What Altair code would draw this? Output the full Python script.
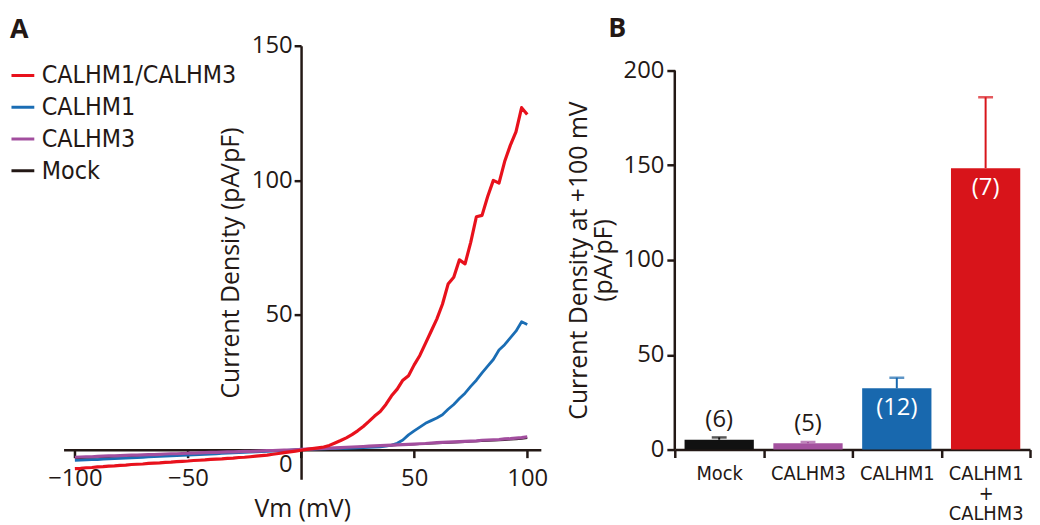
import altair as alt
import pandas as pd

FONT = "Open Sans"
COND = "DejaVu Sans Condensed, Roboto, sans-serif"
INK = "#231815"

# ---------------- Panel A data (I-V traces) ----------------
vm = [-100, -97.5, -95, -92.5, -90, -87.5, -85, -82.5, -80, -77.5,
      -75, -72.5, -70, -67.5, -65, -62.5, -60, -57.5, -55, -52.5,
      -50, -47.5, -45, -42.5, -40, -37.5, -35, -32.5, -30, -27.5,
      -25, -22.5, -20, -17.5, -15, -12.5, -10, -7.5, -5, -2.5,
      0, 2.5, 5, 7.5, 10, 12.5, 15, 17.5, 20, 22.5,
      25, 27.5, 30, 32.5, 35, 37.5, 40, 42.5, 45, 47.5,
      50, 52.5, 55, 57.5, 60, 62.5, 65, 67.5, 70, 72.5,
      75, 77.5, 80, 82.5, 85, 87.5, 90, 92.5, 95, 97.5, 100]

calhm13 = [-7.0, -6.9, -6.7, -6.6, -6.4, -6.3, -6.1, -6.0, -5.8, -5.7,
           -5.5, -5.4, -5.3, -5.1, -5.0, -4.9, -4.7, -4.6, -4.4, -4.3,
           -4.2, -4.0, -3.9, -3.8, -3.6, -3.5, -3.4, -3.2, -3.1, -2.9,
           -2.8, -2.6, -2.4, -2.2, -2.0, -1.7, -1.4, -1.1, -0.8, -0.5,
           -0.2, 0.1, 0.4, 0.7, 1.0, 1.6, 2.5, 3.4, 4.4, 5.6,
           7.0, 8.6, 10.5, 12.5, 14.2, 16.8, 20.0, 22.5, 25.8, 27.5,
           31.5, 35.0, 39.5, 44.0, 48.5, 54.0, 61.5, 64.0, 70.5, 69.0,
           77.0, 86.5, 87.0, 94.0, 100.0, 99.0, 107.0, 113.0, 118.0, 127.0, 124.5]

calhm1 = [-4.0, -3.9, -3.8, -3.7, -3.7, -3.5, -3.4, -3.3, -3.2, -3.1,
          -3.0, -2.9, -2.8, -2.7, -2.6, -2.5, -2.4, -2.3, -2.2, -2.1,
          -2.0, -1.9, -1.8, -1.7, -1.6, -1.5, -1.4, -1.3, -1.2, -1.1,
          -1.0, -0.9, -0.8, -0.7, -0.6, -0.5, -0.4, -0.3, -0.2, -0.1,
          0.0, 0.1, 0.2, 0.3, 0.3, 0.4, 0.4, 0.5, 0.5, 0.6,
          0.7, 0.8, 0.9, 1.0, 1.1, 1.3, 1.7, 2.4, 3.6, 5.5,
          7.0, 8.4, 9.8, 10.8, 11.8, 13.0, 15.0, 16.8, 19.0, 21.0,
          23.5, 25.8, 28.5, 31.0, 33.5, 37.0, 39.0, 41.5, 44.0, 47.5, 46.5]

calhm3 = [-2.8, -2.7, -2.6, -2.6, -2.5, -2.4, -2.3, -2.3, -2.2, -2.1,
          -2.0, -2.0, -1.9, -1.8, -1.8, -1.7, -1.6, -1.5, -1.5, -1.4,
          -1.3, -1.3, -1.2, -1.1, -1.0, -1.0, -0.9, -0.8, -0.8, -0.7,
          -0.6, -0.6, -0.5, -0.4, -0.3, -0.3, -0.2, -0.1, -0.1, 0.0,
          0.1, 0.2, 0.3, 0.4, 0.5, 0.6, 0.7, 0.8, 0.9, 1.0,
          1.1, 1.2, 1.3, 1.4, 1.5, 1.6, 1.7, 1.8, 1.9, 2.0,
          2.1, 2.2, 2.3, 2.5, 2.6, 2.7, 2.8, 2.9, 3.0, 3.1,
          3.2, 3.3, 3.5, 3.6, 3.7, 3.8, 4.0, 4.1, 4.3, 4.5, 4.8]

mock = [-3.2, -3.1, -3.0, -3.0, -2.9, -2.8, -2.7, -2.6, -2.5, -2.4,
        -2.4, -2.3, -2.2, -2.1, -2.0, -1.9, -1.8, -1.8, -1.7, -1.6,
        -1.5, -1.4, -1.4, -1.3, -1.2, -1.1, -1.0, -1.0, -0.9, -0.8,
        -0.7, -0.6, -0.6, -0.5, -0.4, -0.3, -0.2, -0.2, -0.1, 0.0,
        0.0, 0.1, 0.2, 0.3, 0.4, 0.5, 0.6, 0.7, 0.8, 0.9,
        1.0, 1.1, 1.2, 1.3, 1.4, 1.5, 1.6, 1.7, 1.8, 1.9,
        2.0, 2.1, 2.2, 2.3, 2.4, 2.5, 2.6, 2.7, 2.8, 2.9,
        3.0, 3.1, 3.2, 3.3, 3.4, 3.5, 3.6, 3.8, 3.9, 4.1, 4.3]

legend_order = ["CALHM1/CALHM3", "CALHM1", "CALHM3", "Mock"]
legend_colors = ["#E8111C", "#1A6DB4", "#A24E9E", "#231815"]
draw_order = ["Mock", "CALHM1", "CALHM3", "CALHM1/CALHM3"]
line_widths = {"Mock": 2.0, "CALHM1": 2.8, "CALHM3": 3.2, "CALHM1/CALHM3": 3.2}

traces = {"CALHM1/CALHM3": calhm13, "CALHM1": calhm1, "CALHM3": calhm3, "Mock": mock}
rows = []
for name, vals in traces.items():
    for v, c in zip(vm, vals):
        rows.append({"vm": v, "cd": c, "series": name})
df_iv = pd.DataFrame(rows)

# ---------------- Panel B data (bars) ----------------
groups = ["Mock", "CALHM3", "CALHM1", "CALHM1+CALHM3"]
means = [5.2, 3.4, 32.3, 148.5]
sems = [1.2, 0.6, 5.6, 37.4]
n_cells = [6, 5, 12, 7]
bar_colors = ["#111111", "#A4529F", "#1868AE", "#D8141A"]
b_axis_ticks = [0, 50, 100, 150, 200]
df_bar = pd.DataFrame({"group": groups, "mean": means, "sem": sems, "n": n_cells})
df_baxis = pd.DataFrame({"lo": [b_axis_ticks[0]], "hi": [b_axis_ticks[-1]]})

# ---------------- Panel A ----------------
W_A, H_A = 481, 437
x_dom = [-105, 106]
y_dom = [-11, 150]
x0_px = (0 - x_dom[0]) / (x_dom[1] - x_dom[0]) * W_A
y0_px = (0 - y_dom[0]) / (y_dom[1] - y_dom[0]) * H_A

xA = alt.X("vm:Q",
           scale=alt.Scale(domain=x_dom, nice=False, zero=False),
           axis=alt.Axis(values=[-100, -50, 0, 50, 100], offset=-y0_px,
                         title="Vm (mV)", tickSize=8, labelPadding=9, titlePadding=6,
                         labelExpr="datum.value == 0 ? '' : datum.label"))
yA = alt.Y("cd:Q",
           scale=alt.Scale(domain=y_dom, nice=False, zero=False),
           axis=alt.Axis(values=[0, 50, 100, 150], offset=-x0_px,
                         title="Current Density (pA/pF)", tickSize=7, labelPadding=2,
                         titlePadding=8,
                         labelOffset={"expr": "datum.value == 0 ? 15 : 0"}))
colA = alt.Color("series:N",
                 scale=alt.Scale(domain=legend_order, range=legend_colors),
                 legend=alt.Legend(title=None, orient="none", legendX=-54, legendY=17,
                                   symbolType="stroke", symbolSize=529, symbolStrokeWidth=3,
                                   labelFont=COND, labelFontSize=25, labelColor=INK,
                                   labelLimit=400, labelOffset=6, rowPadding=6, padding=0))

base_a = alt.Chart(df_iv)
layers = []
for s in draw_order:
    layers.append(
        base_a.transform_filter(alt.datum.series == s)
        .mark_line(strokeWidth=line_widths[s], strokeJoin="round")
        .encode(x=xA, y=yA, color=colA)
    )
panel_a = alt.layer(*layers).properties(
    width=W_A, height=H_A,
    title=alt.TitleParams("A", anchor="start", font=FONT, fontSize=27,
                          fontWeight="bold", color=INK, offset=-10),
)

# ---------------- Panel B ----------------
H_B = 407            # plot area, top aligned with panel A
H_B_axis = 382       # pixel length of the 0..200 axis
y_top_B = b_axis_ticks[-1] * H_B / H_B_axis
yscaleB = alt.Scale(domain=[0, y_top_B], nice=False)

base_b = alt.Chart(df_bar).transform_calculate(
    upper="datum.mean + datum.sem",
    label="'(' + datum.n + ')'",
)
xB = alt.X("group:N", sort=groups,
           scale=alt.Scale(paddingInner=0, paddingOuter=0),
           axis=alt.Axis(title=None, tickBand="extent", labelAngle=0, labelFont=COND,
                         labelFontSize=20, labelLineHeight=20, labelBaseline="top",
                         tickSize=8, labelPadding=6,
                         labelExpr="datum.value == 'CALHM1+CALHM3' ? ['CALHM1', '+', 'CALHM3'] : datum.label"))
colB = alt.Color("group:N", scale=alt.Scale(domain=groups, range=bar_colors), legend=None)

bars = base_b.mark_bar(width=alt.RelativeBandSize(0.78)).encode(
    x=xB,
    y=alt.Y("mean:Q", scale=yscaleB,
            axis=alt.Axis(values=b_axis_ticks, domain=False,
                          title=["Current Density at +100 mV", "(pA/pF)"],
                          titleY=(H_B - H_B_axis + H_B) / 2,
                          titleLineHeight=25, titlePadding=7, tickSize=8, labelPadding=3)),
    color=colB,
)
axis_line = alt.Chart(df_baxis).mark_rule(strokeWidth=2.5, color=INK).encode(
    x=alt.value(0), y=alt.Y("lo:Q", scale=yscaleB), y2="hi:Q"
)
stems = base_b.mark_rule(strokeWidth=2).encode(x=xB, y=alt.Y("mean:Q", scale=yscaleB), y2="upper:Q", color=colB)
caps = base_b.mark_tick(thickness=2.5, size=15).encode(x=xB, y=alt.Y("upper:Q", scale=yscaleB), color=colB)
labels_out = base_b.transform_filter("datum.mean < 20").mark_text(
    dy=-18, font=FONT, fontSize=24, color=INK
).encode(x=xB, y=alt.Y("upper:Q", scale=yscaleB), text="label:N")
labels_in = base_b.transform_filter("datum.mean >= 20").mark_text(
    dy=20, font=FONT, fontSize=24, color="white"
).encode(x=xB, y=alt.Y("mean:Q", scale=yscaleB), text="label:N")

panel_b = alt.layer(bars, stems, caps, labels_out, labels_in, axis_line).properties(
    width=358, height=H_B,
    title=alt.TitleParams("B", anchor="start", frame="group", dx=-67, font=FONT,
                          fontSize=27, fontWeight="bold", color=INK, offset=3),
)

chart = alt.hconcat(panel_a, panel_b, spacing=18).resolve_scale(
    color="independent"
).properties(
    padding={"left": 2, "top": 5, "right": 0, "bottom": 0}
).configure_view(stroke=None).configure_axis(
    labelFont=FONT, labelFontSize=24, labelColor=INK,
    titleFont=FONT, titleFontSize=25, titleFontWeight="normal", titleColor=INK,
    domainColor=INK, domainWidth=2.5, tickColor=INK, tickWidth=2.5, grid=False,
)

chart.save("out.html", embed_options={"renderer": "svg", "actions": False})
